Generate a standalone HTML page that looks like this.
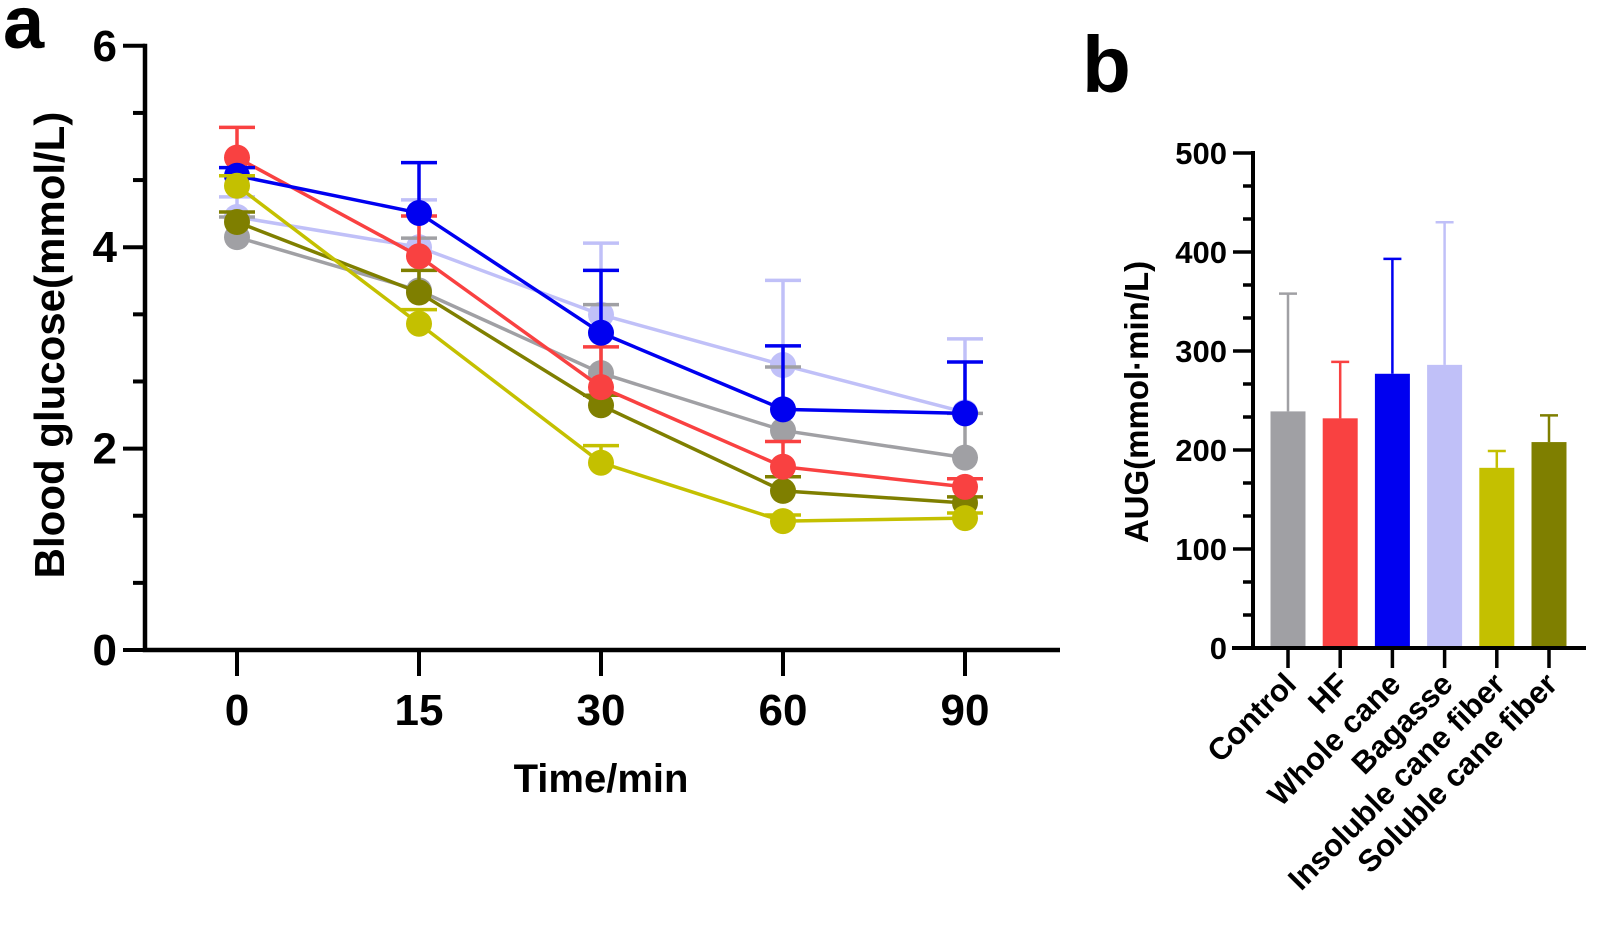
<!DOCTYPE html>
<html><head><meta charset="utf-8">
<style>
html,body{margin:0;padding:0;background:#fff;}
svg{display:block;font-family:"Liberation Sans",Arial,sans-serif;font-weight:bold;}
</style></head>
<body>
<svg id="fig" width="1600" height="931" viewBox="0 0 1600 931" xmlns="http://www.w3.org/2000/svg">
  <text x="3" y="48" font-size="74">a</text>
  <text x="1082" y="92" font-size="80">b</text>
  <g id="pa"></g>
  <g id="pb"></g>
</svg>
<script>
// ---- Panel a data ----
const timeLabels = ["0","15","30","60","90"];
const groupNames = ["Control","HF","Whole cane","Bagasse","Insoluble cane fiber","Soluble cane fiber"];
const groupColors = ["#a0a0a4","#f94141","#0000f0","#c0c0f8","#c4c000","#7f7f00"];
const controlMean = [4.10,3.57,2.75,2.18,1.91];
const controlErr  = [0.20,0.52,0.68,0.63,0.44];
const hfMean      = [4.89,3.91,2.61,1.82,1.62];
const hfErr       = [0.30,0.40,0.40,0.25,0.08];
const wholeMean   = [4.71,4.34,3.15,2.39,2.35];
const wholeErr    = [0.08,0.50,0.62,0.63,0.51];
const bagasseMean = [4.30,4.00,3.33,2.83,2.36];
const bagasseErr  = [0.20,0.47,0.71,0.84,0.73];
const insolMean   = [4.61,3.24,1.86,1.28,1.31];
const insolErr    = [0.10,0.14,0.17,0.06,0.05];
const solMean     = [4.25,3.55,2.43,1.58,1.46];
const solErr      = [0.10,0.22,0.10,0.14,0.06];
const yTicksA = [0,2,4,6];
// ---- Panel b data ----
const aucMean = [239,232,277,286,182,208];
const aucErr  = [119,57,116,144,17,27];
const yTicksB = [0,100,200,300,400,500];

const NS="http://www.w3.org/2000/svg";
function mk(parent,tag,attrs,text){const e=document.createElementNS(NS,tag);for(const k in attrs)e.setAttribute(k,attrs[k]);if(text!==undefined)e.textContent=text;parent.appendChild(e);return e;}

// ---- Panel a ----
const pa=document.getElementById('pa');
const ax0=145, y0a=650, pxPerUnit=100.7;
const xA=i=>237+i*182;
const yA=v=>y0a-v*pxPerUnit;
for(let k=0;k<=9;k++){const v=k*2/3;const t=mk(pa,'line',{x1:ax0-(k%3===0?22:12),x2:ax0,y1:yA(v),y2:yA(v),stroke:'#000','stroke-width':4});

}
yTicksA.forEach(v=>{const t=mk(pa,'text',{x:ax0-28,y:yA(v)+15,'font-size':44,'text-anchor':'end'},String(v));

});
let axl=mk(pa,'path',{d:`M${ax0} ${yA(6)-2} V${y0a} H1060`,fill:'none',stroke:'#000','stroke-width':4.5});


timeLabels.forEach((l,i)=>{const t=mk(pa,'line',{x1:xA(i),x2:xA(i),y1:y0a,y2:y0a+26,stroke:'#000','stroke-width':4});


const tl=mk(pa,'text',{x:xA(i),y:725,'font-size':44,'text-anchor':'middle'},l);

});
let xt=mk(pa,'text',{x:601,y:792,'font-size':40,'text-anchor':'middle'},'Time/min');


let yt=mk(pa,'text',{x:0,y:0,'font-size':42,'text-anchor':'middle',transform:'translate(64,345) rotate(-90)'},'Blood glucose(mmol/L)');



const means=[controlMean,hfMean,wholeMean,bagasseMean,insolMean,solMean];
const errs=[controlErr,hfErr,wholeErr,bagasseErr,insolErr,solErr];
const order=[3,0,5,1,2,4];
order.forEach(g=>{
  const c=groupColors[g];
  const grp=mk(pa,'g',{});
  
  
  means[g].forEach((v,i)=>{
    const top=yA(v+errs[g][i]);
    const e=mk(grp,'path',{d:`M${xA(i)} ${yA(v)} V${top} M${xA(i)-18} ${top} H${xA(i)+18}`,stroke:c,'stroke-width':3.5,fill:'none'});
    
    
  });
  const pts=means[g].map((v,i)=>xA(i)+','+yA(v)).join(' ');
  const pl=mk(grp,'polyline',{points:pts,fill:'none',stroke:c,'stroke-width':3.5});
  
  
  means[g].forEach((v,i)=>{
    const p=mk(grp,'circle',{cx:xA(i),cy:yA(v),r:13,fill:c});
    
    
  });
});

// ---- Panel b ----
const pb=document.getElementById('pb');
const bx0=1253, y0b=648, pxB=0.99;
const yB=v=>y0b-v*pxB;
const xB=i=>1288+i*52.2;
for(let k=0;k<=15;k++){const v=k*100/3;const t=mk(pb,'line',{x1:bx0-(k%3===0?20:10),x2:bx0,y1:yB(v),y2:yB(v),stroke:'#000','stroke-width':3.5});

}
yTicksB.forEach(v=>{const t=mk(pb,'text',{x:1227,y:yB(v)+11,'font-size':31,'text-anchor':'end'},String(v));

});
aucMean.forEach((v,i)=>{
  const c=groupColors[i];
  const top=yB(v+aucErr[i]);
  const e=mk(pb,'path',{d:`M${xB(i)} ${yB(v)} V${top} M${xB(i)-9} ${top} H${xB(i)+9}`,stroke:c,'stroke-width':2.5,fill:'none'});
  
  
  const r=mk(pb,'rect',{x:xB(i)-17.5,y:yB(v),width:35,height:v*pxB,fill:c});
  
  
  const t=mk(pb,'line',{x1:xB(i),x2:xB(i),y1:y0b,y2:y0b+20,stroke:'#000','stroke-width':3.5});
  
  
  const l=mk(pb,'text',{x:0,y:0,'font-size':31,'text-anchor':'end',transform:`translate(${xB(i)+10},${y0b+38}) rotate(-45)`},groupNames[i]);
  
  
});
let axb=mk(pb,'path',{d:`M${bx0} ${yB(500)-2} V${y0b} M1232 ${y0b} H1586`,fill:'none',stroke:'#000','stroke-width':4});


let ybt=mk(pb,'text',{x:0,y:0,'font-size':33,'text-anchor':'middle',transform:'translate(1148,402) rotate(-90)'},'AUG(mmol·min/L)');


</script>
</body></html>
